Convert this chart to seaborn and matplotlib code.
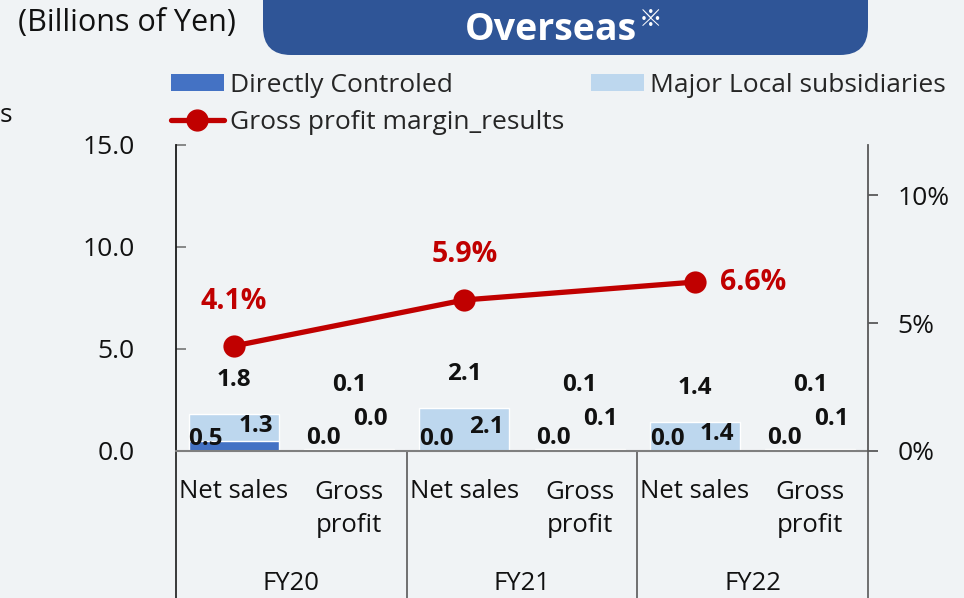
import numpy as np
import pandas as pd
import matplotlib
matplotlib.use("Agg")
import matplotlib.pyplot as plt
import seaborn as sns
from matplotlib.patches import FancyBboxPatch, Patch
from matplotlib.lines import Line2D
import matplotlib.transforms as mtransforms

# ---------------- data ----------------
years = ["FY20", "FY21", "FY22"]
metrics = ["Net sales", "Gross\nprofit"]
directly_controlled = [0.5, 0.04, 0.02, 0.03, 0.02, 0.03]
major_local = [1.3, 0.04, 2.1, 0.08, 1.4, 0.08]
margin_pct = [4.1, 5.9, 6.6]
left_ticks = [0.0, 5.0, 10.0, 15.0]
right_ticks = [0, 5, 10]

BG = "#F0F3F5"
DARK = "#4472C4"
LIGHT = "#BDD7EE"
RED = "#C00000"
FONT = "Open Sans"
TXT = "#111111"

sns.set_theme(style="white")
plt.rcParams["font.family"] = [FONT, "DejaVu Sans"]

W, H = 964, 598
fig = plt.figure(figsize=(W / 100, H / 100), dpi=100, facecolor=BG)

def fx(px):
    return px / W

def fy(py):
    return 1 - py / H

def px2pt(p):
    return p * 0.72

ax_l, ax_r, ax_t, ax_b = 176, 868, 145, 451
ax = fig.add_axes([fx(ax_l), fy(ax_b), fx(ax_r - ax_l), (ax_b - ax_t) / H])
ax.set_facecolor("none")

keys = [f"{y}|{m}" for y in years for m in metrics]
totals = [d + l for d, l in zip(directly_controlled, major_local)]
df = pd.DataFrame({"key": keys, "total": totals, "dir": directly_controlled,
                   "local": major_local})

sns.barplot(data=df, x="key", y="total", color=LIGHT, width=0.78,
            saturation=1, ax=ax, order=keys)
sns.barplot(data=df, x="key", y="dir", color=DARK, width=0.78,
            saturation=1, ax=ax, order=keys)

ax.set_xlim(-0.5, 5.5)
ax.set_ylim(0, 15)
ax.set_yticks(left_ticks)
ax.set_yticklabels([f"{v:.1f}" for v in left_ticks], fontsize=19, color=TXT)
ax.tick_params(axis="y", direction="in", length=7, width=1.3, color="#7f7f7f",
               pad=30, left=True)
ax.set_xticks([])
ax.set_xlabel("")
ax.set_ylabel("")
for s in ["top", "right"]:
    ax.spines[s].set_visible(False)
ax.spines["left"].set_color("#1a1a1a")
ax.spines["left"].set_linewidth(1.3)
ax.spines["bottom"].set_color("#7f7f7f")
ax.spines["bottom"].set_linewidth(1.5)

# right axis with margin line
ax2 = ax.twinx()
ax2.set_ylim(0, (ax_b - ax_t) / 25.6)
sns.lineplot(x=[0, 2, 4], y=margin_pct, ax=ax2, color=RED, linewidth=3.8,
             marker="o", markersize=16, markeredgewidth=0, zorder=5)
ax2.set_yticks(right_ticks)
ax2.set_yticklabels([f"{v}%" for v in right_ticks], fontsize=19, color=TXT)
ax2.tick_params(axis="y", direction="out", length=7, width=1.3,
                color="#595959", pad=14, right=True)
for s in ["top", "left", "bottom"]:
    ax2.spines[s].set_visible(False)
ax2.spines["right"].set_color("#595959")
ax2.spines["right"].set_linewidth(1.3)
ax2.set_ylabel("")
ax2.set_xlim(-0.5, 5.5)

lbl_kw = dict(fontsize=17.5, fontweight="bold", color=TXT, ha="center",
              va="center", textcoords="offset points", annotation_clip=False,
              zorder=6)
for i, (d, l) in enumerate(zip(directly_controlled, major_local)):
    t = d + l
    if i % 2 == 0:
        ax.annotate(f"{d:.1f}", (i, 0), xytext=(px2pt(-28), px2pt(12)), **lbl_kw)
        ax.annotate(f"{l:.1f}", (i, d + l / 2), xytext=(px2pt(22), px2pt(2)), **lbl_kw)
        ax.annotate(f"{t:.1f}", (i, t), xytext=(0, px2pt(34)), **lbl_kw)
    else:
        ax.annotate(f"{d:.1f}", (i, 0), xytext=(px2pt(-26), px2pt(13)), **lbl_kw)
        ax.annotate(f"{l:.1f}", (i, 0), xytext=(px2pt(21), px2pt(32)), **lbl_kw)
        ax.annotate(f"{t:.1f}", (i, 0), xytext=(0, px2pt(66)), **lbl_kw)

# margin labels
m_kw = dict(fontsize=20.5, fontweight="bold", color=RED, va="center",
            textcoords="offset points", zorder=7)
for j, (xi, v) in enumerate(zip([0, 2, 4], margin_pct)):
    if j < 2:
        ax2.annotate(f"{v:.1f}%", (xi, v), xytext=(0, px2pt(45)), ha="center", **m_kw)
    else:
        ax2.annotate(f"{v:.1f}%", (xi, v), xytext=(px2pt(25), 0), ha="left", **m_kw)

# category axis
trans = mtransforms.blended_transform_factory(ax.transData, ax.transAxes)
axh = ax_b - ax_t
for i, k in enumerate(keys):
    m = k.split("|")[1]
    if i % 2 == 0:
        ax.text(i, -41 / axh, m, transform=trans, ha="center", va="center",
                fontsize=18.5, color=TXT)
    else:
        ax.text(i, -58 / axh, m, transform=trans, ha="center", va="center",
                fontsize=18.5, color=TXT, linespacing=1.4)
for g, y in enumerate(years):
    ax.text(2 * g + 0.5, -132 / axh, y, transform=trans, ha="center",
            va="center", fontsize=18.5, color=TXT)
for xb in [-0.5, 1.5, 3.5, 5.5]:
    ax.add_line(Line2D([xb, xb], [0, -(H - ax_b + 5) / axh], transform=trans,
                       color="#595959" if xb != -0.5 else "#1a1a1a",
                       linewidth=1.2, clip_on=False))

# legend
handles = [Patch(facecolor=DARK, edgecolor="none"),
           Line2D([0], [0], color=RED, linewidth=3.8, marker="o", markersize=15),
           Patch(facecolor=LIGHT, edgecolor="none")]
labels = ["Directly Controled", "Gross profit margin_results",
          "Major Local subsidiaries"]
fig.legend(handles, labels, loc="upper left", bbox_to_anchor=(fx(171), fy(73)),
           ncol=2, frameon=False, fontsize=19, handlelength=2.0,
           handleheight=0.6, handletextpad=0.25, columnspacing=1.0,
           labelspacing=0.45, borderaxespad=0, borderpad=0)

# overlay for header
ov = fig.add_axes([0, 0, 1, 1], zorder=-1)
ov.set_xlim(0, W)
ov.set_ylim(H, 0)
ov.axis("off")
ov.add_patch(FancyBboxPatch((263, -40), 605, 95,
                            boxstyle="round,pad=0,rounding_size=28",
                            facecolor="#2F5597", edgecolor="none"))
ov.text(551, 30, "Overseas", color="white", fontsize=27, fontweight="bold",
        ha="center", va="center")
ov.text(651, 20, "※", color="white", fontsize=17, ha="center", va="center",
        family=["Noto Sans CJK JP", "DejaVu Sans"])
ov.text(18, 23, "(Billions of Yen)", fontsize=22, color=TXT,
        ha="left", va="center")
ov.text(0, 115, "s", fontsize=19, color=TXT, ha="left", va="center")

fig.savefig("out.png", dpi=100, facecolor=BG)
